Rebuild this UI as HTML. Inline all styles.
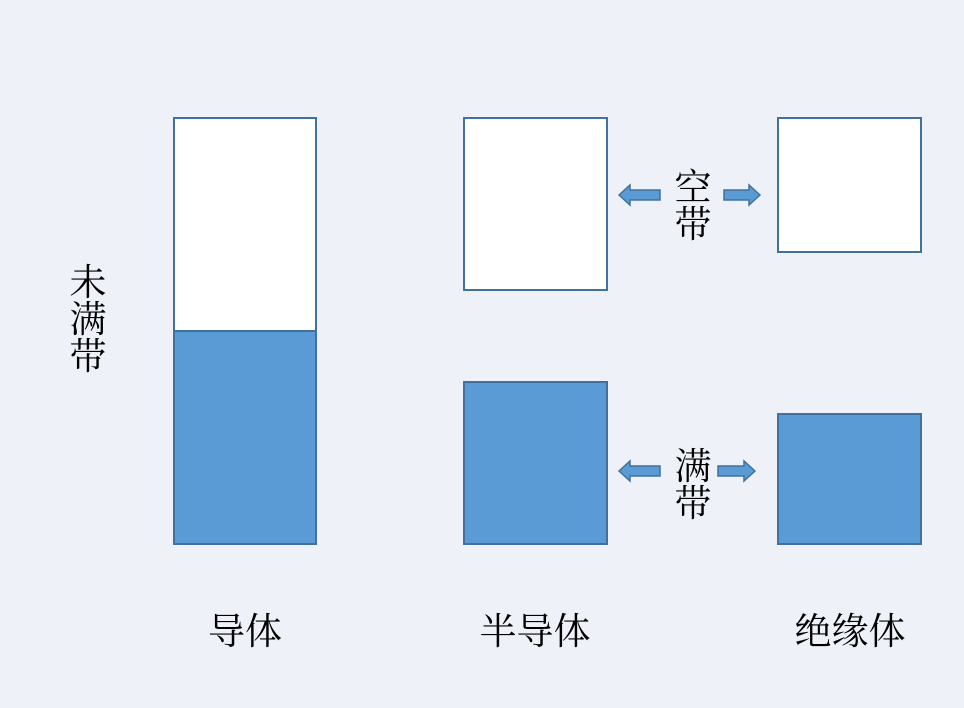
<!DOCTYPE html>
<html><head><style>
body{margin:0;width:964px;height:708px;background:#eef2f8;position:relative;overflow:hidden;font-family:"Liberation Serif","Noto Serif CJK SC",serif;color:#000}
.b{position:absolute;border:2px solid #41719c;box-sizing:border-box;background:#fff}
.f{background:#5b9bd5}
.t{position:absolute;font-size:37px;line-height:37px;text-align:center}
</style></head><body>
<div class="b" style="left:173px;top:117px;width:144px;height:215px"></div>
<div class="b f" style="left:173px;top:330px;width:144px;height:215px"></div>
<div class="b" style="left:463px;top:117px;width:145px;height:174px"></div>
<div class="b f" style="left:463px;top:381px;width:145px;height:164px"></div>
<div class="b" style="left:777px;top:117px;width:145px;height:136px"></div>
<div class="b f" style="left:777px;top:413px;width:145px;height:132px"></div>
<div class="t" style="left:68px;top:265px;width:40px">未<br>满<br>带</div>
<div class="t" style="left:673px;top:170px;width:40px">空<br>带</div>
<div class="t" style="left:673px;top:449px;width:40px">满<br>带</div>
<div class="t" style="left:195px;top:614px;width:100px">导体</div>
<div class="t" style="left:470px;top:614px;width:130px">半导体</div>
<div class="t" style="left:785px;top:614px;width:130px">绝缘体</div>
<svg width="964" height="708" style="position:absolute;left:0;top:0">
<g fill="#5b9bd5" stroke="#41719c" stroke-width="1.5">
<polygon points="619,195 630,185 630,190 660,190 660,200 630,200 630,205"/>
<polygon points="760,195 749,185 749,190 724,190 724,200 749,200 749,205"/>
<polygon points="619,471 630,461 630,466 660,466 660,476 630,476 630,481"/>
<polygon points="755,471 744,461 744,466 718,466 718,476 744,476 744,481"/>
</g></svg>
</body></html>
